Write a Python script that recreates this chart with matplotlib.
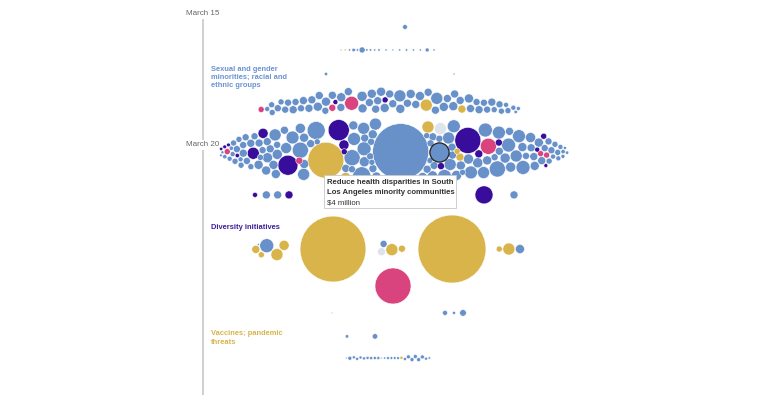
import numpy as np
import matplotlib.pyplot as plt

plt.rcParams['font.family'] = ['Liberation Sans', 'DejaVu Sans']

# Grant amounts in $ millions, grouped by the day of March they sit on.
# Categories: B = sexual/gender minorities, racial and ethnic groups,
# P = diversity initiatives, G = vaccines/pandemic threats, K, L = other topics
a_day, a_amt, a_cat = 15.53, [0.25], 'B'

b1_day = 16.40
b1_amt = [0.03, 0.04, 0.05, 0.13, 0.06, 0.39, 0.06, 0.06, 0.05, 0.06]
b1_cat = 'BGBBBBBBBB'
b2_day = 16.40
b2_amt = [0.05, 0.04, 0.05, 0.06, 0.05, 0.05, 0.17, 0.05]
b2_cat = 'BBBBBBBB'

c_day, c_amt, c_cat = 17.31, [0.125, 0.04], 'BB'

d_day = 18.30
d_amt = [0.39, 0.27, 0.39, 0.39, 0.53, 0.39, 0.53, 0.53, 0.69, 0.53,
         0.69, 0.53, 0.69, 0.69, 0.88, 0.69, 0.53, 0.88, 0.69, 0.53,
         0.27, 0.69, 0.88, 0.69, 2.1, 0.88, 1.1, 0.69, 0.88, 0.69,
         0.69, 0.88, 0.39, 0.69, 0.88, 0.69, 1.56, 0.88, 0.69, 0.88,
         0.69, 0.88, 1.56, 0.69, 1.56, 0.69, 0.88, 0.69, 0.88, 0.69,
         0.69, 0.69, 0.88, 0.69, 0.53, 0.69, 0.53, 0.69, 0.53, 0.39,
         0.53, 0.39, 0.27, 0.39, 0.27, 0.17, 0.12]
d_cat = ('KBBBBBBBBB' 'BBBBBBBBBK' 'PBBBKBBBBB' 'BBPBBBBBBB'
         'BBGBBBBBBB' 'GBBBBBBBBB' 'BBBBBBB')

e_day = 20.25
e_amt = [0.08, 0.12, 0.1, 0.15, 0.2, 0.39, 0.15, 0.27, 0.2, 0.39,
         0.27, 0.39, 0.2, 0.53, 0.39, 0.27, 0.53, 0.39, 0.69, 0.53,
         0.53, 0.69, 0.39, 1.56, 0.53, 0.88, 0.69, 1.1, 0.4, 0.53,
         0.88, 1.1, 0.69, 0.88, 0.69, 1.56, 1.1, 0.53,
         0.88, 1.3, 0.69, 4.3, 1.8, 0.53, 2.8, 0.88, 1.56, 0.39,
         1.1, 0.69, 3.5, 0.88, 14.0, 4.8, 0.69, 1.1, 1.1, 0.39,
         1.8, 0.53, 2.8, 0.88, 3.5, 1.56, 0.88, 2.1, 0.69, 1.1,
         0.53, 1.56, 0.39, 0.88, 0.69, 0.53, 34.0, 0.69, 0.53, 0.88,
         0.39, 0.69, 1.1, 0.53, 0.39, 0.69, 1.56, 0.53, 4.0, 1.56,
         2.1, 1.56, 1.8, 1.56, 0.69, 1.1, 0.69, 0.39, 0.88, 0.69,
         0.39, 1.1, 7.3, 1.8, 0.69, 2.1, 1.1, 2.8, 1.56, 0.88,
         0.53, 2.8, 0.69, 1.1, 0.53, 1.8, 1.1, 2.1, 0.69, 1.56,
         1.8, 2.1, 0.88, 1.1, 0.53, 0.69, 0.88, 0.69, 0.27, 0.88,
         0.39, 0.39, 0.69, 0.53, 0.17, 0.39, 0.53, 0.39, 0.53, 0.39,
         0.27, 0.39, 0.27, 0.2, 0.27, 0.17, 0.12, 0.1]
e_cat = ('BPBPBKPBBB' 'BBPBBBBBBB' 'BBBPBBBPBB' 'BBBBBBBB'
         'BBBPBKBBBB' 'BBBBGPBPGP' 'BBBBBBBBBB' 'BBBBBBBBBB'
         'BBBBBBGPBL' 'BBBBBBGGBB' 'BBPBPBBKBB' 'PBBBBBBBBB'
         'BBBBBBBBPB' 'KPBBPKBBBB' 'BBBBBBBB')

f1_day, f1_amt, f1_cat = 21.89, [0.27, 0.69, 0.69, 0.69], 'PBBP'
f2_day, f2_amt, f2_cat = 21.89, [3.5, 0.69], 'PB'

g1_day, g1_amt, g1_cat = 23.94, [0.04, 0.39, 0.69, 2.1, 1.56, 1.1], 'BGGBGG'
g2_day, g2_amt, g2_cat = 23.94, [47.0], 'G'
g3_day, g3_amt, g3_cat = 23.94, [0.69, 0.53, 1.56, 0.53], 'LBGG'
g4_day, g4_amt, g4_cat = 23.94, [50.0], 'G'
g5_day, g5_amt, g5_cat = 23.94, [0.39, 1.56, 0.88], 'GGB'

h_day, h_amt, h_cat = 25.34, [14.0], 'K'

i1_day, i1_amt, i1_cat = 26.36, [0.015], 'B'
i2_day, i2_amt, i2_cat = 26.36, [0.27, 0.1, 0.47], 'BBB'

j_day, j_amt, j_cat = 27.25, [0.125, 0.32], 'BB'

k_day = 28.07
k_amt = [0.03, 0.17, 0.1, 0.1, 0.1, 0.1, 0.1, 0.1, 0.1, 0.1,
         0.03, 0.05, 0.08, 0.08, 0.08, 0.08, 0.1, 0.1, 0.17, 0.17,
         0.17, 0.17, 0.17, 0.1, 0.06]
k_cat = 'BBBBBBBBBB' 'BBBBBBGBBB' 'BBBBB'

tip_text = ['Reduce health disparities in South',
            'Los Angeles minority communities']
tip_amount = '$4 million'
tip_value = 4.0

colors = {'B': '#6891ca', 'P': '#390d9b', 'G': '#d9b44b',
          'K': '#d9447f', 'L': '#dde4ec'}

# layout: centre x (px), half width (px), packing mode, bend of the row
groups = [
    (a_day, a_amt, a_cat, 405, 0, 'line', 0),
    (b1_day, b1_amt, b1_cat, 360, 19, 'line', 0),
    (b2_day, b2_amt, b2_cat, 410, 24, 'line', 0),
    (c_day, c_amt, c_cat, 390, 64, 'line', 0),
    (d_day, d_amt, d_cat, 389, 130, 'pack', 10),
    (e_day, e_amt, e_cat, 393, 162, 'pack', 0),
    (f1_day, f1_amt, f1_cat, 272, 17, 'line', 0),
    (f2_day, f2_amt, f2_cat, 499, 15, 'line', 0),
    (g1_day, g1_amt, g1_cat, 271, 8, 'pack', 0),
    (g2_day, g2_amt, g2_cat, 333, 0, 'line', 0),
    (g3_day, g3_amt, g3_cat, 390, 5, 'pack', 0),
    (g4_day, g4_amt, g4_cat, 452, 0, 'line', 0),
    (g5_day, g5_amt, g5_cat, 511, 6, 'pack', 0),
    (h_day, h_amt, h_cat, 393, 0, 'line', 0),
    (i1_day, i1_amt, i1_cat, 332, 0, 'line', 0),
    (i2_day, i2_amt, i2_cat, 454, 9, 'line', 0),
    (j_day, j_amt, j_cat, 361, 14, 'line', 0),
    (k_day, k_amt, k_cat, 388, 41, 'line', 0),
]

Y0, PX_PER_DAY = 13, 26.4   # March 15 sits 13 px from the top


def to_px(day):
    return Y0 + (day - 15) * PX_PER_DAY


def to_day(px):
    return 15 + (px - Y0) / PX_PER_DAY


# build the circles and their targets
r, tx, ty, kx, ky, cols, amts, jit = [], [], [], [], [], [], [], []
grid = np.linspace(-1, 1, 801)
cdf = 0.5 + (grid * np.sqrt(1 - grid ** 2) + np.arcsin(grid)) / np.pi
for day, amt, cat, cx, half, mode, bend in groups:
    assert len(amt) == len(cat)
    rr = 4.8 * np.sqrt(np.array(amt, dtype=float))
    n = len(rr)
    if n == 1:
        u = np.zeros(1)
    elif mode == 'line':
        u = np.linspace(-1, 1, n)
    else:
        w = rr ** 2
        u = np.interp((np.cumsum(w) - w / 2) / w.sum(), cdf, grid)
    r.extend(rr)
    tx.extend(cx + half * u)
    ty.extend(to_px(day) + bend * u ** 2)
    kx.extend([0.05 if mode == 'pack' else 0.3] * n)
    ky.extend([0.12 if mode == 'pack' else 0.1] * n)
    jit.extend([6.0 if mode == 'pack' else 0.5] * n)
    cols.extend(colors[c] for c in cat)
    amts.extend(amt)

r, tx, ty = np.array(r), np.array(tx), np.array(ty)
kx, ky, jit = np.array(kx), np.array(ky), np.array(jit)
idx = np.arange(len(r))
x = tx.copy()
y = ty + ((idx * 0.618034) % 1 - 0.5) * 2 * jit
r2 = r ** 2
share = r2[None, :] / (r2[:, None] + r2[None, :])
pad = 0.6


def collide(x, y, rate):
    dx = x[None, :] - x[:, None]
    dy = y[None, :] - y[:, None]
    d = np.hypot(dx, dy) + 1e-6
    ov = r[:, None] + r[None, :] + pad - d
    np.fill_diagonal(ov, 0)
    push = np.clip(ov, 0, None) * share * rate
    x -= (push * dx / d).sum(1)
    y -= (push * dy / d).sum(1)


for it in range(600):
    x += (tx - x) * kx
    y += (ty - y) * ky
    collide(x, y, 0.4)
    collide(x, y, 0.4)
for it in range(60):
    collide(x, y, 0.3)

# draw
fig = plt.figure(figsize=(7.71, 3.95), dpi=100)
ax = fig.add_axes([0, 0, 1, 1])
ax.set_xlim(0, 771)
ax.set_ylim(to_day(395), to_day(0))
ax.axis('off')

ax.plot([203, 203], [to_day(20), to_day(395)], color='#cccccc', lw=1.3, zorder=1)
for d, lab in [(15, 'March 15'), (20, 'March 20')]:
    ax.text(186, d, lab, fontsize=5.8, color='#666666', va='center', ha='left',
            zorder=2, bbox=dict(fc='white', ec='none', pad=1.0))

order = np.argsort(-r)
sizes = (2 * r * 0.72) ** 2
ax.scatter(x[order], to_day(y[order]), s=sizes[order],
           c=[cols[i] for i in order], edgecolors='white', linewidths=0.35,
           zorder=3)

# highlighted grant and its tooltip, hung just under the March 20 cluster
h = int(np.argmin(np.abs(np.array(amts) - tip_value) + (r < 9) * 99))
ax.scatter([x[h]], [to_day(y[h])], s=sizes[h], c=cols[h],
           edgecolors='#222222', linewidths=0.9, zorder=4)
bx = x[h] - 115
by = max(y[h] + r[h] + 6.5, to_px(e_day) + 23.5)
ax.add_patch(plt.Rectangle((bx, to_day(by)), 132, 33 / PX_PER_DAY,
                           fc='white', ec='#c8c8c8', lw=0.6, zorder=5))
ax.text(bx + 3, to_day(by + 7.5), tip_text[0], fontsize=5.6, fontweight='bold',
        color='#333333', va='center', zorder=6)
ax.text(bx + 3, to_day(by + 17.5), tip_text[1], fontsize=5.6, fontweight='bold',
        color='#333333', va='center', zorder=6)
ax.text(bx + 3, to_day(by + 27.5), tip_amount, fontsize=5.6,
        color='#333333', va='center', zorder=6)

# category labels
ax.text(211, to_day(77.5), 'Sexual and gender\nminorities; racial and\nethnic groups',
        fontsize=5.4, fontweight='bold', color='#6b93d2', va='center',
        linespacing=1.25)
ax.text(211, to_day(227), 'Diversity initiatives', fontsize=5.4,
        fontweight='bold', color='#3b1f9a', va='center')
ax.text(211, to_day(338), 'Vaccines; pandemic\nthreats', fontsize=5.4,
        fontweight='bold', color='#d8b44c', va='center', linespacing=1.25)

fig.savefig('out.png', dpi=100)
